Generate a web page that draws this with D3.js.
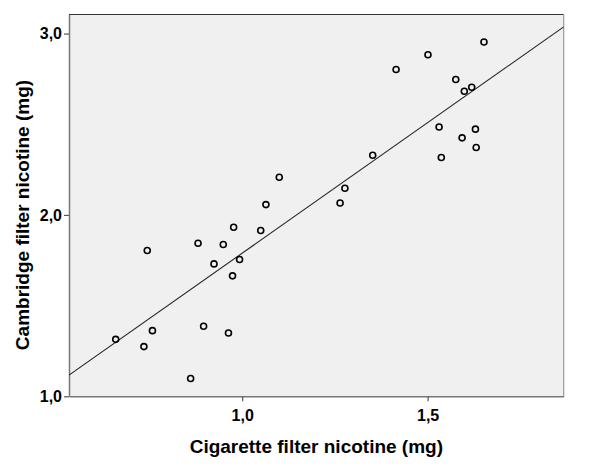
<!DOCTYPE html>
<html>
<head>
<meta charset="utf-8">
<script src="https://cdn.jsdelivr.net/npm/d3@7"></script>
<style>
  html, body { margin: 0; padding: 0; background: #fff; }
  svg text { font-family: "Liberation Sans", Arial, sans-serif; font-weight: bold; fill: #000; }
</style>
</head>
<body>
<svg id="chart" width="600" height="472"></svg>
<script>
// Cigarette filter nicotine (mg)
const cigaretteNicotine = [0.659, 0.735, 0.758, 0.744, 0.861, 0.896, 0.963, 0.881, 0.924, 0.949,
  0.977, 0.974, 0.993, 1.050, 1.064, 1.100, 1.264, 1.277, 1.352, 1.415,
  1.501, 1.531, 1.537, 1.576, 1.593, 1.599, 1.619, 1.629, 1.631, 1.652];
// Cambridge filter nicotine (mg)
const cambridgeNicotine = [1.314, 1.274, 1.362, 1.804, 1.098, 1.386, 1.349, 1.844, 1.730, 1.837,
  1.932, 1.664, 1.754, 1.914, 2.057, 2.208, 2.066, 2.147, 2.329, 2.802,
  2.883, 2.485, 2.317, 2.747, 2.425, 2.682, 2.704, 2.473, 2.372, 2.953];
const xTicks = [1.0, 1.5];
const yTicks = [1.0, 2.0, 3.0];
const xDomain = [0.533, 1.867];
const yDomain = [1.0, 3.105];
// fitted line (intercept, slope) as drawn in the reference
const fitLine = { intercept: 0.350, slope: 1.439 };
const xTitle = "Cigarette filter nicotine (mg)";
const yTitle = "Cambridge filter nicotine (mg)";

const svg = d3.select("#chart");
const m = { left: 69, top: 14.5, right: 600 - 563.7, bottom: 472 - 396.3 };
const W = 600 - m.left - m.right, H = 472 - m.top - m.bottom;
const fmt = d => d3.format(".1f")(d).replace(".", ",");

const x = d3.scaleLinear().domain(xDomain).range([0, W]);
const y = d3.scaleLinear().domain(yDomain).range([H, 0]);

const g = svg.append("g").attr("transform", `translate(${m.left},${m.top})`);

g.append("rect").attr("x", 0).attr("y", 0).attr("width", W).attr("height", H)
  .attr("fill", "#f0f0f0");
// top and right frame
g.append("line").attr("x1", 0).attr("x2", W).attr("y1", 0).attr("y2", 0)
  .attr("stroke", "#333").attr("stroke-width", 1.2);
g.append("line").attr("x1", W).attr("x2", W).attr("y1", 0).attr("y2", H)
  .attr("stroke", "#999").attr("stroke-width", 1.2);

// axes
const xAxis = g.append("g").attr("transform", `translate(0,${H})`)
  .call(d3.axisBottom(x).tickValues(xTicks).tickFormat(fmt).tickSize(5).tickSizeOuter(0).tickPadding(8));
const yAxis = g.append("g")
  .call(d3.axisLeft(y).tickValues(yTicks).tickFormat(fmt).tickSize(5).tickSizeOuter(0).tickPadding(2));
[xAxis, yAxis].forEach(a => {
  a.select(".domain").attr("stroke", "#777").attr("stroke-width", 1.5);
  a.selectAll(".tick line").attr("stroke", "#555").attr("stroke-width", 1.2);
  a.selectAll(".tick text").attr("font-size", 16).attr("font-family", "Liberation Sans, Arial, sans-serif")
    .attr("font-weight", "bold").attr("fill", "#000");
});

// regression line
const clip = g.append("clipPath").attr("id", "clip").append("rect").attr("width", W).attr("height", H);
g.append("line")
  .attr("clip-path", "url(#clip)")
  .attr("x1", x(xDomain[0])).attr("y1", y(fitLine.intercept + fitLine.slope * xDomain[0]))
  .attr("x2", x(xDomain[1])).attr("y2", y(fitLine.intercept + fitLine.slope * xDomain[1]))
  .attr("stroke", "#222").attr("stroke-width", 1.1);

// points
const pts = cigaretteNicotine.map((v, i) => [v, cambridgeNicotine[i]]);
g.selectAll("circle.pt").data(pts).enter().append("circle")
  .attr("class", "pt")
  .attr("cx", d => x(d[0])).attr("cy", d => y(d[1])).attr("r", 3)
  .attr("fill", "none").attr("stroke", "#000").attr("stroke-width", 1.6);

// titles
svg.append("text").attr("x", m.left + W / 2).attr("y", 453)
  .attr("text-anchor", "middle").attr("font-size", 19).text(xTitle);
svg.append("text").attr("transform", `translate(29,${215}) rotate(-90)`)
  .attr("text-anchor", "middle").attr("font-size", 19).text(yTitle);
</script>
</body>
</html>
